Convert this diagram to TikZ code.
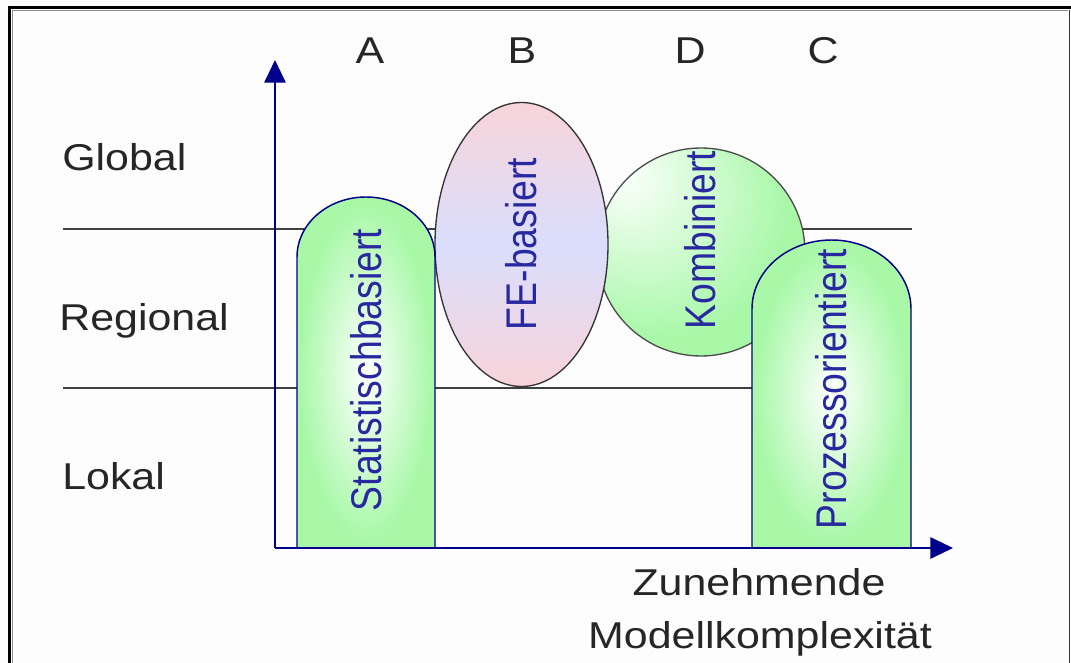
\documentclass[tikz,border=0pt]{standalone}
\usepackage{fontspec}
\setmainfont{Liberation Sans}
\usetikzlibrary{arrows.meta,shapes.geometric}
\definecolor{navyc}{RGB}{0,0,140}
\definecolor{txtblue}{RGB}{40,40,160}
\definecolor{lgreen}{RGB}{168,248,168}
\definecolor{pinkc}{RGB}{248,212,218}
\definecolor{lav}{RGB}{218,222,252}
\definecolor{bgc}{RGB}{253,253,253}
\pgfdeclareradialshading{greenglow}{\pgfpointorigin}{color(0bp)=(white); color(24bp)=(lgreen); color(50bp)=(lgreen)}
\pgfdeclareradialshading{kombiglow}{\pgfpoint{-20bp}{20bp}}{color(0bp)=(white); color(32bp)=(lgreen); color(70bp)=(lgreen)}
\newcommand{\myhstr}[1]{\scalebox{1.15}[1]{#1}}
\newcommand{\myvstr}[1]{\scalebox{1}[1.15]{#1}}
\tikzset{
  lbl/.style={font=\fontsize{28}{34}\selectfont, text=black!85, inner sep=0pt},
  vlbl/.style={font=\fontsize{28}{34}\selectfont, text=txtblue, inner sep=0pt, rotate=90},
  axisline/.style={draw=navyc, line width=1.5pt, -{Triangle[length=17pt,width=16pt]}},
  levelline/.style={draw=black!75, line width=1.3pt},
  greenshape/.style={shading=greenglow, draw=navyc, line width=1.1pt},
}
\begin{document}
\begin{tikzpicture}[x=0.75pt,y=-0.75pt]
\useasboundingbox (0,0) rectangle (1071,663);
\fill[bgc] (0,0) rectangle (1071,663);
% frame
\draw[line width=2.4pt, black] (9.5,663) -- (9.5,7.5) -- (1071,7.5);
\draw[line width=1.4pt, black!45] (12.5,663) -- (12.5,10.5) -- (1068,10.5);
\draw[line width=1.1pt, black!80] (1069.5,10) -- (1069.5,663);
% level lines
\coordinate (l1a) at (63,229); \coordinate (l1b) at (912,229);
\coordinate (l2a) at (63,388); \coordinate (l2b) at (780,388);
\draw[levelline] (l1a) -- (l1b);
\draw[levelline] (l2a) -- (l2b);
% Kombiniert
\path[shading=kombiglow, draw=black!70, line width=1pt] (701,252) ellipse[x radius=104, y radius=104];
% FE-basiert
\path[shade, top color=pinkc, bottom color=pinkc, middle color=lav, draw=black!80, line width=1pt] (521.5,244.5) ellipse[x radius=86.5, y radius=142];
% Statistischbasiert
\path[greenshape] (297,548) -- (297,257) arc[start angle=180, end angle=360, x radius=69, y radius=60] -- (435,548) -- cycle;
% Prozessorientiert
\path[greenshape] (752,548) -- (752,309) arc[start angle=180, end angle=360, x radius=79.5, y radius=69] -- (911,548) -- cycle;
% axes
\coordinate (o) at (275,548);
\coordinate (ytip) at (275,60);
\coordinate (xtip) at (953,548);
\draw[axisline] (o) -- (ytip);
\draw[axisline] (o) -- (xtip);
% vertical labels
\node[vlbl] (stat) at (366,370) {\myvstr{Statistischbasiert}};
\node[vlbl] (fe) at (521,244) {\myvstr{FE-basiert}};
\node[vlbl] (kombi) at (700,240) {\myvstr{Kombiniert}};
\node[vlbl] (proz) at (831,389) {\myvstr{Prozessorientiert}};
% letters
\node[lbl, anchor=base] (la) at (370,64) {\myhstr{A}};
\node[lbl, anchor=base] (lb) at (522,64) {\myhstr{B}};
\node[lbl, anchor=base] (ld) at (690,64) {\myhstr{D}};
\node[lbl, anchor=base] (lc) at (823,64) {\myhstr{C}};
% levels
\node[lbl, anchor=base west] (global) at (62,171) {\myhstr{Global}};
\node[lbl, anchor=base west] (regional) at (59,330) {\myhstr{Regional}};
\node[lbl, anchor=base west] (lokal) at (62,489) {\myhstr{Lokal}};
% axis label
\node[lbl, anchor=base] (zun) at (759,595) {\myhstr{Zunehmende}};
\node[lbl, anchor=base] (mod) at (760,648) {\myhstr{Modellkomplexität}};
\end{tikzpicture}
\end{document}
